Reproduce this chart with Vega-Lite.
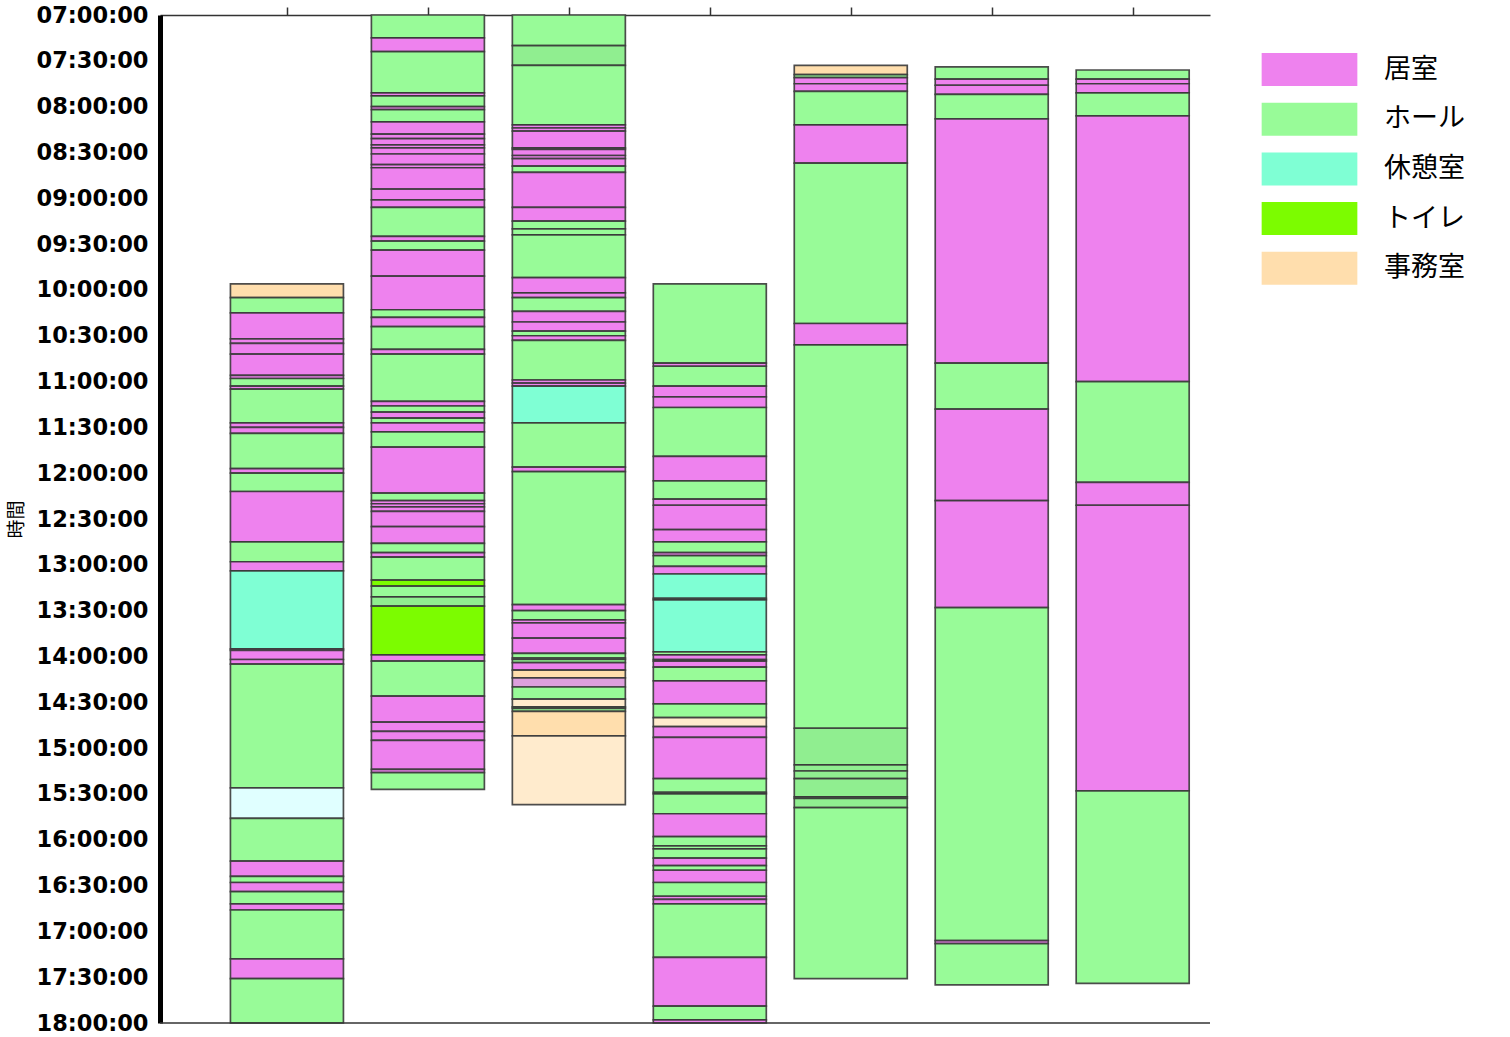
{
 "$schema": "https://vega.github.io/schema/vega-lite/v6.json",
 "width": 1050,
 "height": 1008,
 "autosize": "none",
 "padding": {"left": 160, "top": 15, "right": 300, "bottom": 14},
 "background": "white",
 "config": {"view": {"stroke": null}},
 "data": {
  "values": [
   {"col":1,"start":596,"end":605,"room":"事務室"},
   {"col":1,"start":605,"end":615,"room":"ホール"},
   {"col":1,"start":615,"end":632,"room":"居室"},
   {"col":1,"start":632,"end":635,"room":"居室"},
   {"col":1,"start":635,"end":642,"room":"居室"},
   {"col":1,"start":642,"end":656,"room":"居室"},
   {"col":1,"start":656,"end":658,"room":"居室"},
   {"col":1,"start":658,"end":663,"room":"ホール"},
   {"col":1,"start":663,"end":665,"room":"居室"},
   {"col":1,"start":665,"end":687,"room":"ホール"},
   {"col":1,"start":687,"end":690,"room":"居室"},
   {"col":1,"start":690,"end":694,"room":"居室"},
   {"col":1,"start":694,"end":717,"room":"ホール"},
   {"col":1,"start":717,"end":720,"room":"居室"},
   {"col":1,"start":720,"end":732,"room":"ホール"},
   {"col":1,"start":732,"end":765,"room":"居室"},
   {"col":1,"start":765,"end":778,"room":"ホール"},
   {"col":1,"start":778,"end":784,"room":"居室"},
   {"col":1,"start":784,"end":835,"room":"休憩室"},
   {"col":1,"start":835,"end":836,"room":"居室"},
   {"col":1,"start":836,"end":842,"room":"居室"},
   {"col":1,"start":842,"end":845,"room":"居室"},
   {"col":1,"start":845,"end":926,"room":"ホール"},
   {"col":1,"start":926,"end":946,"room":"浴室"},
   {"col":1,"start":946,"end":974,"room":"ホール"},
   {"col":1,"start":974,"end":984,"room":"居室"},
   {"col":1,"start":984,"end":988,"room":"ホール"},
   {"col":1,"start":988,"end":994,"room":"居室"},
   {"col":1,"start":994,"end":1002,"room":"ホール"},
   {"col":1,"start":1002,"end":1006,"room":"居室"},
   {"col":1,"start":1006,"end":1038,"room":"ホール"},
   {"col":1,"start":1038,"end":1051,"room":"居室"},
   {"col":1,"start":1051,"end":1080,"room":"ホール"},

   {"col":2,"start":420,"end":435,"room":"ホール"},
   {"col":2,"start":435,"end":444,"room":"居室"},
   {"col":2,"start":444,"end":471,"room":"ホール"},
   {"col":2,"start":471,"end":473,"room":"居室"},
   {"col":2,"start":473,"end":480,"room":"ホール"},
   {"col":2,"start":480,"end":482,"room":"居室"},
   {"col":2,"start":482,"end":490,"room":"ホール"},
   {"col":2,"start":490,"end":498,"room":"居室"},
   {"col":2,"start":498,"end":501,"room":"居室"},
   {"col":2,"start":501,"end":505,"room":"居室"},
   {"col":2,"start":505,"end":507,"room":"居室"},
   {"col":2,"start":507,"end":511,"room":"居室"},
   {"col":2,"start":511,"end":518,"room":"居室"},
   {"col":2,"start":518,"end":520,"room":"居室"},
   {"col":2,"start":520,"end":534,"room":"居室"},
   {"col":2,"start":534,"end":541,"room":"居室"},
   {"col":2,"start":541,"end":546,"room":"居室"},
   {"col":2,"start":546,"end":565,"room":"ホール"},
   {"col":2,"start":565,"end":568,"room":"居室"},
   {"col":2,"start":568,"end":574,"room":"ホール"},
   {"col":2,"start":574,"end":591,"room":"居室"},
   {"col":2,"start":591,"end":613,"room":"居室"},
   {"col":2,"start":613,"end":618,"room":"ホール"},
   {"col":2,"start":618,"end":624,"room":"居室"},
   {"col":2,"start":624,"end":639,"room":"ホール"},
   {"col":2,"start":639,"end":642,"room":"居室"},
   {"col":2,"start":642,"end":673,"room":"ホール"},
   {"col":2,"start":673,"end":676,"room":"居室"},
   {"col":2,"start":676,"end":680,"room":"ホール"},
   {"col":2,"start":680,"end":684,"room":"居室"},
   {"col":2,"start":684,"end":687,"room":"ホール"},
   {"col":2,"start":687,"end":693,"room":"居室"},
   {"col":2,"start":693,"end":703,"room":"ホール"},
   {"col":2,"start":703,"end":733,"room":"居室"},
   {"col":2,"start":733,"end":738,"room":"ホール"},
   {"col":2,"start":738,"end":740,"room":"居室"},
   {"col":2,"start":740,"end":742,"room":"居室"},
   {"col":2,"start":742,"end":745,"room":"居室"},
   {"col":2,"start":745,"end":755,"room":"居室"},
   {"col":2,"start":755,"end":766,"room":"居室"},
   {"col":2,"start":766,"end":772,"room":"ホール"},
   {"col":2,"start":772,"end":775,"room":"居室"},
   {"col":2,"start":775,"end":790,"room":"ホール"},
   {"col":2,"start":790,"end":794,"room":"トイレ"},
   {"col":2,"start":794,"end":801,"room":"ホール"},
   {"col":2,"start":801,"end":807,"room":"食堂"},
   {"col":2,"start":807,"end":839,"room":"トイレ"},
   {"col":2,"start":839,"end":843,"room":"居室"},
   {"col":2,"start":843,"end":866,"room":"ホール"},
   {"col":2,"start":866,"end":883,"room":"居室"},
   {"col":2,"start":883,"end":889,"room":"居室"},
   {"col":2,"start":889,"end":895,"room":"居室"},
   {"col":2,"start":895,"end":914,"room":"居室"},
   {"col":2,"start":914,"end":916,"room":"居室"},
   {"col":2,"start":916,"end":927,"room":"ホール"},

   {"col":3,"start":420,"end":440,"room":"ホール"},
   {"col":3,"start":440,"end":453,"room":"食堂"},
   {"col":3,"start":453,"end":492,"room":"ホール"},
   {"col":3,"start":492,"end":494,"room":"居室"},
   {"col":3,"start":494,"end":496,"room":"居室"},
   {"col":3,"start":496,"end":507,"room":"居室"},
   {"col":3,"start":507,"end":508,"room":"居室"},
   {"col":3,"start":508,"end":512,"room":"居室"},
   {"col":3,"start":512,"end":514,"room":"居室"},
   {"col":3,"start":514,"end":519,"room":"居室"},
   {"col":3,"start":519,"end":523,"room":"ホール"},
   {"col":3,"start":523,"end":546,"room":"居室"},
   {"col":3,"start":546,"end":555,"room":"居室"},
   {"col":3,"start":555,"end":560,"room":"ホール"},
   {"col":3,"start":560,"end":564,"room":"ホール"},
   {"col":3,"start":564,"end":592,"room":"ホール"},
   {"col":3,"start":592,"end":602,"room":"居室"},
   {"col":3,"start":602,"end":605,"room":"居室"},
   {"col":3,"start":605,"end":614,"room":"ホール"},
   {"col":3,"start":614,"end":621,"room":"居室"},
   {"col":3,"start":621,"end":627,"room":"居室"},
   {"col":3,"start":627,"end":630,"room":"ホール"},
   {"col":3,"start":630,"end":633,"room":"居室"},
   {"col":3,"start":633,"end":659,"room":"ホール"},
   {"col":3,"start":659,"end":661,"room":"居室"},
   {"col":3,"start":661,"end":663,"room":"居室"},
   {"col":3,"start":663,"end":687,"room":"休憩室"},
   {"col":3,"start":687,"end":716,"room":"ホール"},
   {"col":3,"start":716,"end":719,"room":"居室"},
   {"col":3,"start":719,"end":806,"room":"ホール"},
   {"col":3,"start":806,"end":810,"room":"居室"},
   {"col":3,"start":810,"end":816,"room":"ホール"},
   {"col":3,"start":816,"end":818,"room":"居室"},
   {"col":3,"start":818,"end":828,"room":"居室"},
   {"col":3,"start":828,"end":838,"room":"居室"},
   {"col":3,"start":838,"end":841,"room":"ホール"},
   {"col":3,"start":841,"end":842,"room":"ホール"},
   {"col":3,"start":842,"end":844,"room":"ホール"},
   {"col":3,"start":844,"end":849,"room":"居室"},
   {"col":3,"start":849,"end":854,"room":"事務室"},
   {"col":3,"start":854,"end":860,"room":"廊下"},
   {"col":3,"start":860,"end":868,"room":"ホール"},
   {"col":3,"start":868,"end":873,"room":"玄関"},
   {"col":3,"start":873,"end":874,"room":"ホール"},
   {"col":3,"start":874,"end":876,"room":"ホール"},
   {"col":3,"start":876,"end":892,"room":"事務室"},
   {"col":3,"start":892,"end":937,"room":"玄関"},

   {"col":4,"start":596,"end":648,"room":"ホール"},
   {"col":4,"start":648,"end":650,"room":"居室"},
   {"col":4,"start":650,"end":663,"room":"ホール"},
   {"col":4,"start":663,"end":670,"room":"居室"},
   {"col":4,"start":670,"end":677,"room":"居室"},
   {"col":4,"start":677,"end":709,"room":"ホール"},
   {"col":4,"start":709,"end":725,"room":"居室"},
   {"col":4,"start":725,"end":737,"room":"ホール"},
   {"col":4,"start":737,"end":741,"room":"居室"},
   {"col":4,"start":741,"end":757,"room":"居室"},
   {"col":4,"start":757,"end":765,"room":"居室"},
   {"col":4,"start":765,"end":772,"room":"ホール"},
   {"col":4,"start":772,"end":774,"room":"居室"},
   {"col":4,"start":774,"end":781,"room":"ホール"},
   {"col":4,"start":781,"end":786,"room":"居室"},
   {"col":4,"start":786,"end":802,"room":"休憩室"},
   {"col":4,"start":802,"end":803,"room":"休憩室"},
   {"col":4,"start":803,"end":837,"room":"休憩室"},
   {"col":4,"start":837,"end":839,"room":"ホール"},
   {"col":4,"start":839,"end":842,"room":"居室"},
   {"col":4,"start":842,"end":843,"room":"居室"},
   {"col":4,"start":843,"end":847,"room":"居室"},
   {"col":4,"start":847,"end":856,"room":"ホール"},
   {"col":4,"start":856,"end":871,"room":"居室"},
   {"col":4,"start":871,"end":880,"room":"ホール"},
   {"col":4,"start":880,"end":886,"room":"玄関"},
   {"col":4,"start":886,"end":893,"room":"居室"},
   {"col":4,"start":893,"end":920,"room":"居室"},
   {"col":4,"start":920,"end":929,"room":"ホール"},
   {"col":4,"start":929,"end":930,"room":"ホール"},
   {"col":4,"start":930,"end":943,"room":"ホール"},
   {"col":4,"start":943,"end":958,"room":"居室"},
   {"col":4,"start":958,"end":964,"room":"ホール"},
   {"col":4,"start":964,"end":966,"room":"ホール"},
   {"col":4,"start":966,"end":972,"room":"ホール"},
   {"col":4,"start":972,"end":977,"room":"居室"},
   {"col":4,"start":977,"end":980,"room":"ホール"},
   {"col":4,"start":980,"end":988,"room":"居室"},
   {"col":4,"start":988,"end":997,"room":"ホール"},
   {"col":4,"start":997,"end":999,"room":"居室"},
   {"col":4,"start":999,"end":1002,"room":"居室"},
   {"col":4,"start":1002,"end":1037,"room":"ホール"},
   {"col":4,"start":1037,"end":1069,"room":"居室"},
   {"col":4,"start":1069,"end":1078,"room":"ホール"},
   {"col":4,"start":1078,"end":1080,"room":"居室"},

   {"col":5,"start":453,"end":459,"room":"事務室"},
   {"col":5,"start":459,"end":461,"room":"ホール"},
   {"col":5,"start":461,"end":465,"room":"居室"},
   {"col":5,"start":465,"end":470,"room":"居室"},
   {"col":5,"start":470,"end":492,"room":"ホール"},
   {"col":5,"start":492,"end":517,"room":"居室"},
   {"col":5,"start":517,"end":622,"room":"ホール"},
   {"col":5,"start":622,"end":636,"room":"居室"},
   {"col":5,"start":636,"end":887,"room":"ホール"},
   {"col":5,"start":887,"end":911,"room":"食堂"},
   {"col":5,"start":911,"end":915,"room":"食堂"},
   {"col":5,"start":915,"end":920,"room":"食堂"},
   {"col":5,"start":920,"end":932,"room":"食堂"},
   {"col":5,"start":932,"end":933,"room":"食堂"},
   {"col":5,"start":933,"end":939,"room":"食堂"},
   {"col":5,"start":939,"end":1051,"room":"ホール"},

   {"col":6,"start":454,"end":462,"room":"ホール"},
   {"col":6,"start":462,"end":466,"room":"居室"},
   {"col":6,"start":466,"end":472,"room":"居室"},
   {"col":6,"start":472,"end":488,"room":"ホール"},
   {"col":6,"start":488,"end":648,"room":"居室"},
   {"col":6,"start":648,"end":678,"room":"ホール"},
   {"col":6,"start":678,"end":738,"room":"居室"},
   {"col":6,"start":738,"end":808,"room":"居室"},
   {"col":6,"start":808,"end":1026,"room":"ホール"},
   {"col":6,"start":1026,"end":1028,"room":"居室"},
   {"col":6,"start":1028,"end":1055,"room":"ホール"},

   {"col":7,"start":456,"end":462,"room":"ホール"},
   {"col":7,"start":462,"end":465,"room":"居室"},
   {"col":7,"start":465,"end":471,"room":"居室"},
   {"col":7,"start":471,"end":486,"room":"ホール"},
   {"col":7,"start":486,"end":660,"room":"居室"},
   {"col":7,"start":660,"end":726,"room":"ホール"},
   {"col":7,"start":726,"end":741,"room":"居室"},
   {"col":7,"start":741,"end":928,"room":"居室"},
   {"col":7,"start":928,"end":1054,"room":"ホール"}
  ]
 },
 "layer": [
  {
   "mark": {"type": "bar", "width": 113, "stroke": "#3a3a3a", "strokeWidth": 1.7, "strokeOpacity": 0.9},
   "encoding": {
    "x": {
     "field": "col", "type": "quantitative",
     "scale": {"domain": [0.135, 7.513], "nice": false, "zero": false},
     "axis": {"orient": "top", "values": [1,2,3,4,5,6,7], "labels": false, "ticks": true, "tickSize": 8, "tickColor": "#333", "tickWidth": 1.5, "domainColor": "#333", "domainWidth": 1.5, "grid": false, "title": null}
    },
    "y": {
     "field": "start", "type": "quantitative",
     "scale": {"domain": [420, 1080], "nice": false, "zero": false, "reverse": true},
     "axis": {"title": "時間", "titleFont": "Noto Sans CJK JP", "titleFontSize": 19, "titleFontWeight": "normal", "titleColor": "#000", "titlePadding": 10,
      "values": [420,450,480,510,540,570,600,630,660,690,720,750,780,810,840,870,900,930,960,990,1020,1050,1080],
      "labelExpr": "pad(floor(datum.value/60)+'', 2, '0', 'left') + ':' + pad((datum.value%60)+'', 2, '0', 'left') + ':00'",
      "labelFont": "DejaVu Sans", "labelFontSize": 22.5, "labelFontWeight": "bold", "labelColor": "#000", "labelPadding": 12, "labelOverlap": false, "labelFlush": false,
      "ticks": false, "domainColor": "#000", "domainWidth": 5, "grid": false}
    },
    "y2": {"field": "end"},
    "color": {
     "field": "room", "type": "nominal",
     "scale": {"domain": ["居室", "ホール", "休憩室", "トイレ", "事務室", "浴室", "食堂", "玄関", "廊下"],
      "range": ["#EE82EE", "#98FB98", "#7FFFD4", "#7CFC00", "#FFDEAD", "#E0FFFF", "#90EE90", "#FFEBCD", "#DDA0DD"]},
     "legend": {"orient": "none", "legendX": 1133, "legendY": 38, "title": null, "padding": 0,
      "values": ["居室", "ホール", "休憩室", "トイレ", "事務室"],
      "symbolType": "M-2.9,-1H2.9V1H-2.9Z", "symbolSize": 1089, "symbolStrokeWidth": 0, "symbolOpacity": 1,
      "labelFont": "Noto Sans CJK JP", "labelFontSize": 27, "labelColor": "#000", "labelOffset": 58, "rowPadding": 16.7, "labelLimit": 300}
    }
   }
  },
  {
   "data": {"values": [{}]},
   "mark": {"type": "rule", "color": "#333", "strokeWidth": 1.5},
   "encoding": {"y": {"datum": 1080, "type": "quantitative"}}
  }
 ]
}
